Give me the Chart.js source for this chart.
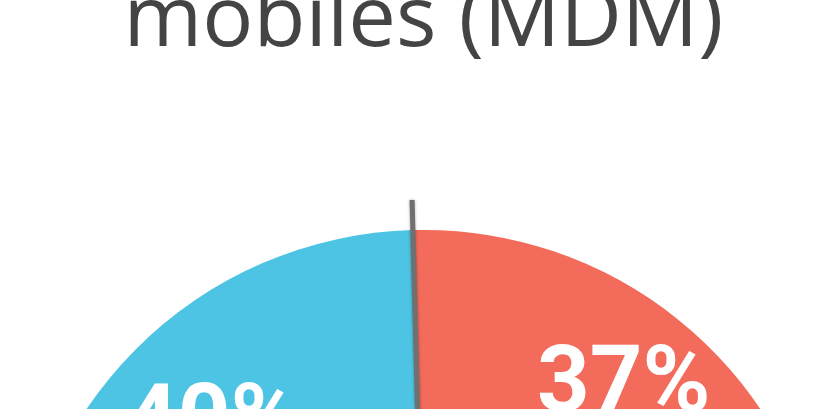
<!DOCTYPE html>
<html>
<head>
<meta charset="utf-8">
<script src="https://cdn.jsdelivr.net/npm/chart.js@4"></script>
<style>
    html, body { margin: 0; padding: 0; width: 820px; height: 409px; overflow: hidden; background: #fff; }
    #wrap { position: absolute; left: 0; top: -29px; }
</style>
</head>
<body>
<div id="wrap"><canvas id="mdmChart" width="830" height="1072"></canvas></div>
<script>
// survey answers (multiple choice, so the shares add up to more than 100)
const categories = ['Oui', 'Autres réponses', 'Non'];
const values = [37, 88, 40];
const sliceColors = ['#f26b5b', '#f5b94a', '#4dc4e3'];
const titleText = 'mobiles (MDM)';

// grey needle on the boundary where the first slice starts
const dividerLine = {
    id: 'dividerLine',
    afterDatasetsDraw(chart) {
        const arc = chart.getDatasetMeta(0).data[0];
        if (!arc) return;
        const { x, y, startAngle, outerRadius } = arc.getProps(['x', 'y', 'startAngle', 'outerRadius'], true);
        const len = outerRadius + 30;
        const ctx = chart.ctx;
        ctx.save();
        ctx.strokeStyle = '#707070';
        ctx.lineWidth = 5;
        ctx.shadowColor = 'rgba(0,0,0,0.35)';
        ctx.shadowBlur = 3;
        ctx.beginPath();
        ctx.moveTo(x, y);
        ctx.lineTo(x + Math.cos(startAngle) * len, y + Math.sin(startAngle) * len);
        ctx.stroke();
        ctx.restore();
    }
};

// big white percentages inside each slice
const sliceLabels = {
    id: 'sliceLabels',
    afterDatasetsDraw(chart, args, opts) {
        const ctx = chart.ctx;
        const meta = chart.getDatasetMeta(0);
        ctx.save();
        ctx.fillStyle = '#ffffff';
        ctx.font = 'bold 92px Roboto';
        ctx.textAlign = 'center';
        ctx.textBaseline = 'middle';
        meta.data.forEach((arc, i) => {
            const { x, y, startAngle, endAngle, outerRadius } = arc.getProps(['x', 'y', 'startAngle', 'endAngle', 'outerRadius'], true);
            const mid = (startAngle + endAngle) / 2;
            const r = outerRadius * (opts.radius[i] || 0.75);
            ctx.fillText(values[i] + '%', x + Math.cos(mid) * r, y + Math.sin(mid) * r);
        });
        ctx.restore();
    }
};

const ctx = document.getElementById('mdmChart').getContext('2d');

new Chart(ctx, {
    type: 'pie',
    data: {
        labels: categories,
        datasets: [{
            data: values,
            backgroundColor: sliceColors,
            borderWidth: 0,
            hoverOffset: 0,
        }],
    },
    options: {
        responsive: false,
        animation: false,
        rotation: -1.5,
        layout: {
            padding: { left: 17, right: 0, top: 0, bottom: 0 },
        },
        plugins: {
            legend: { display: false },
            tooltip: { enabled: false },
            title: {
                display: true,
                text: titleText,
                color: '#444444',
                font: { family: 'Open Sans', size: 85, weight: '400', lineHeight: 1.2 },
                padding: { top: 0, bottom: 156.8 },
            },
            sliceLabels: {
                radius: [0.785, 0.7, 0.735],
            },
        },
    },
    plugins: [dividerLine, sliceLabels],
});
</script>
</body>
</html>
